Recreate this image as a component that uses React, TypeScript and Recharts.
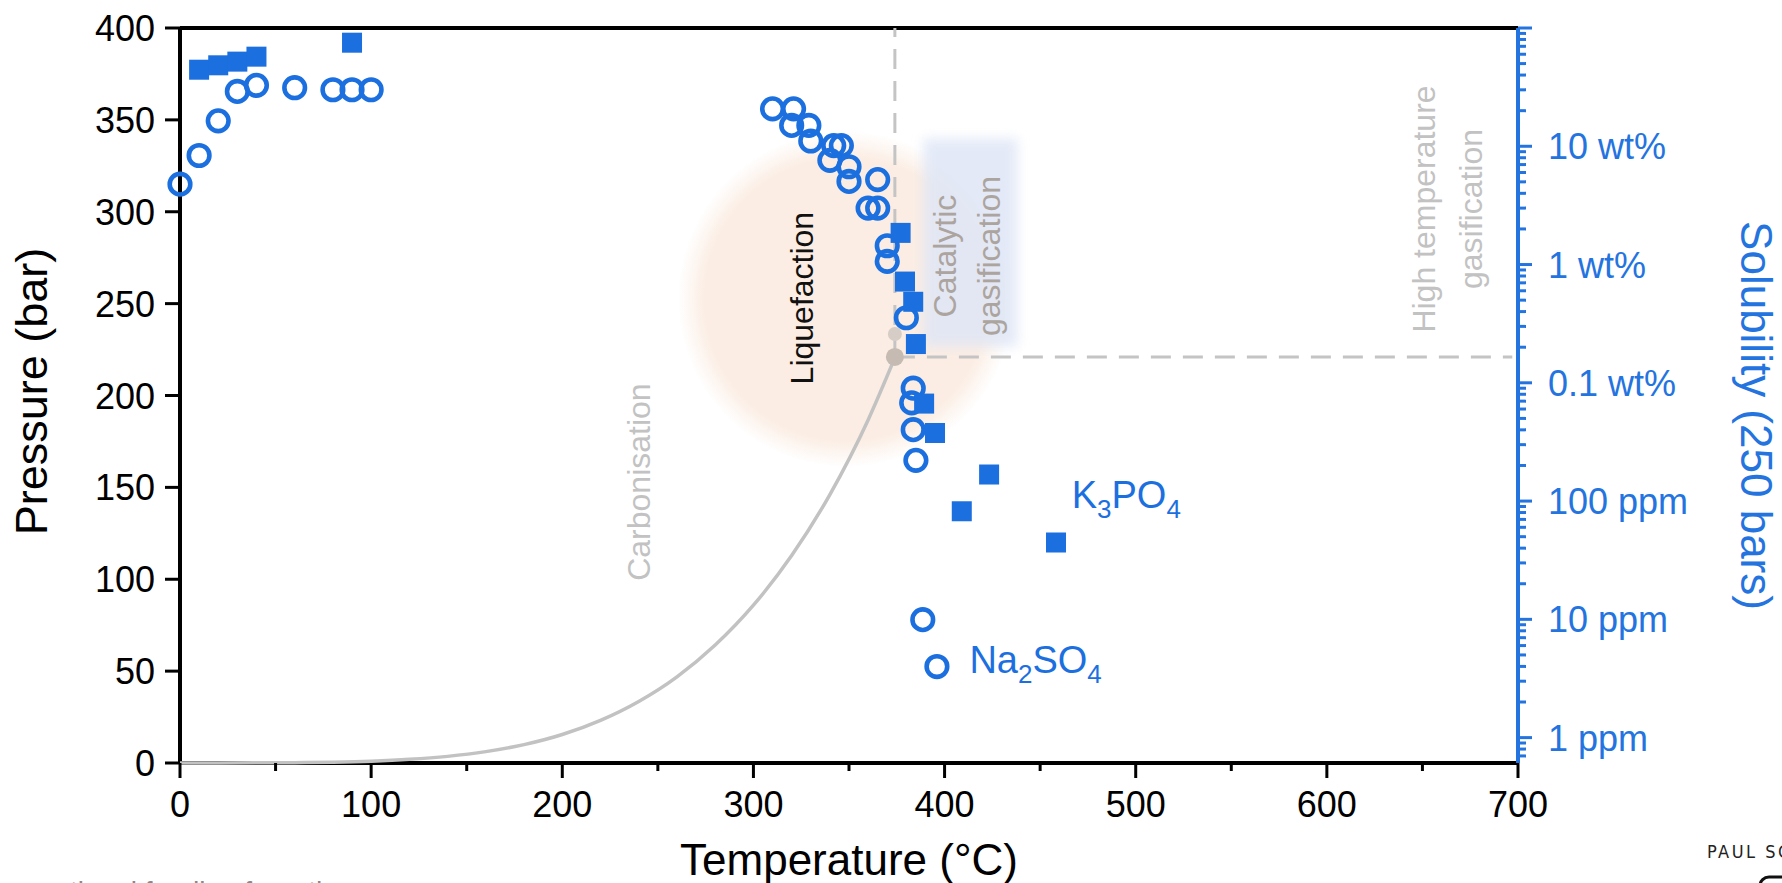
import React from 'react';
import { ScatterChart, Scatter, XAxis, YAxis, ReferenceLine } from 'recharts';

const FONT = '"Liberation Sans", Arial, Helvetica, sans-serif';
const BLUE = '#1b6fdf';
const AXIS_BLUE = '#2474e0';

// Na2SO4 (open circles)
const naTemp = [0, 10, 20, 30, 40, 60, 80, 90, 100, 310, 321, 320, 329, 330, 342, 346, 340, 350, 350, 365, 360, 365, 370, 370, 380, 383.6, 382.8, 383.6, 385, 388.6, 396];
const naPres = [315, 330.6, 349.5, 365.5, 368.8, 367.5, 366.4, 366.4, 366.4, 356, 356, 347, 347, 338.5, 336, 336, 328, 324.5, 316.5, 317.5, 302, 302, 281.5, 273, 242.3, 204, 196, 181.4, 164.7, 78, 52.5];

// K3PO4 (filled squares)
const kTemp = [10, 20, 30, 40, 90, 377, 379.3, 383.6, 385, 389.3, 395, 409, 423.3, 458.3];
const kPres = [377.3, 379.7, 381.7, 384.4, 392, 288.5, 262, 251, 228, 195.6, 179.6, 137, 157, 120];

// water saturation (vapour pressure) curve up to the critical point
const satTemp = [0, 20, 40, 60, 80, 100, 120, 140, 160, 180, 200, 220, 240, 260, 280, 300, 320, 340, 360, 374];
const satPres = [0.006, 0.023, 0.074, 0.199, 0.474, 1.01, 1.99, 3.61, 6.18, 10.0, 15.5, 23.2, 33.5, 46.9, 64.2, 85.9, 112.9, 146.1, 186.7, 220.6];

const criticalT = 374;
const criticalP = 221;
const upperDotP = 233.5;
const dashEndT = 697;
const topP = 400;

const xTicks = [0, 50, 100, 150, 200, 250, 300, 350, 400, 450, 500, 550, 600, 650, 700];
const yTicks = [0, 50, 100, 150, 200, 250, 300, 350, 400];
const solMajor = [1, 10, 100, 1000, 10000, 100000, 1000000];
const solLabels = ['1 ppm', '10 ppm', '100 ppm', '0.1 wt%', '1 wt%', '10 wt%', ''];
const solMinorBelow = [0.7, 0.8, 0.9];
const minorFactors = [2, 3, 4, 5, 6, 7, 8, 9];

const solTicks: number[] = [...solMinorBelow];
solMajor.forEach((m, i) => {
  solTicks.push(m);
  if (i < solMajor.length - 1) minorFactors.forEach((f) => solTicks.push(m * f));
});

const naData = naTemp.map((t, i) => ({ t, p: naPres[i] }));
const kData = kTemp.map((t, i) => ({ t, p: kPres[i] }));
const satData = satTemp.map((t, i) => ({ t, p: satPres[i] }));
const vDash = [{ t: criticalT, p: criticalP }, { t: criticalT, p: topP }];
const hDash = [{ t: criticalT, p: criticalP }, { t: dashEndT, p: criticalP }];
const criticalDots = [
  { t: criticalT, p: upperDotP, big: false },
  { t: criticalT, p: criticalP, big: true },
];

// annotation anchors (data space)
const liquefactionZone = [{ t: 348.4, p: 252.5 }];
const catalyticZone = [{ t: 413.6, p: 283.3 }];
const zoneNotes = [
  { t: 245.9, p: 152.9, lines: ['Carbonisation'], color: '#c2c2c2', gap: 44 },
  { t: 331.2, p: 253, lines: ['Liquefaction'], color: '#111111', gap: 44 },
  { t: 406, p: 275.9, lines: ['Catalytic', 'gasification'], color: '#aca49e', gap: 44 },
  { t: 656.6, p: 301.5, lines: ['High temperature', 'gasification'], color: '#c2c2c2', gap: 47 },
];
const k3po4Label = [{ t: 466.5, p: 138.9 }];
const na2so4Label = [{ t: 413, p: 48.8 }];

const Ring = (props: any) => {
  const { cx, cy } = props;
  if (cx == null || cy == null) return <g />;
  return <circle cx={cx} cy={cy} r={10.3} fill="none" stroke={BLUE} strokeWidth={4.6} />;
};

const Square = (props: any) => {
  const { cx, cy } = props;
  if (cx == null || cy == null) return <g />;
  return <rect x={cx - 10} y={cy - 10} width={20} height={20} fill={BLUE} />;
};

const Nothing = () => <g />;

const CritDot = (props: any) => {
  const { cx, cy, payload } = props;
  if (cx == null) return <g />;
  return <circle cx={cx} cy={cy} r={payload.big ? 9 : 7} fill={payload.big ? '#c6bbb3' : '#d6cdc6'} />;
};

const PeachZone = (props: any) => {
  const { cx, cy } = props;
  if (cx == null) return <g />;
  return (
    <g>
      <defs>
        <radialGradient id="peachGrad" cx="50%" cy="50%" r="50%">
          <stop offset="0%" stopColor="#fbede3" stopOpacity={1} />
          <stop offset="84%" stopColor="#fbede3" stopOpacity={1} />
          <stop offset="100%" stopColor="#fbede3" stopOpacity={0} />
        </radialGradient>
      </defs>
      <circle cx={cx} cy={cy} r={168} fill="url(#peachGrad)" />
    </g>
  );
};

const BlueZone = (props: any) => {
  const { cx, cy } = props;
  if (cx == null) return <g />;
  return (
    <g>
      <defs>
        <filter id="blueBlur" x="-50%" y="-50%" width="200%" height="200%">
          <feGaussianBlur stdDeviation="6" />
        </filter>
      </defs>
      <rect x={cx - 47} y={cy - 104} width={94} height={208} fill="#dfe6f6" opacity={0.85} filter="url(#blueBlur)" />
    </g>
  );
};

const NoteShape = (props: any) => {
  const { cx, cy, payload } = props;
  if (cx == null) return <g />;
  return (
    <g>
      {payload.lines.map((ln: string, i: number) => {
        const x = cx + i * payload.gap;
        return (
          <text
            key={i}
            x={x}
            y={cy}
            transform={`rotate(-90 ${x} ${cy})`}
            textAnchor="middle"
            fontSize={32}
            fontFamily={FONT}
            fill={payload.color}
          >
            {ln}
          </text>
        );
      })}
    </g>
  );
};

const K3PO4Shape = (props: any) => {
  const { cx, cy } = props;
  if (cx == null) return <g />;
  return (
    <text x={cx} y={cy} fontSize={38} fontFamily={FONT} fill={BLUE}>
      K<tspan fontSize={26} dy={10}>3</tspan>
      <tspan dy={-10}>PO</tspan>
      <tspan fontSize={26} dy={10}>4</tspan>
    </text>
  );
};

const Na2SO4Shape = (props: any) => {
  const { cx, cy } = props;
  if (cx == null) return <g />;
  return (
    <text x={cx} y={cy} fontSize={38} fontFamily={FONT} fill={BLUE}>
      Na<tspan fontSize={26} dy={10}>2</tspan>
      <tspan dy={-10}>SO</tspan>
      <tspan fontSize={26} dy={10}>4</tspan>
    </text>
  );
};

const XTick = (props: any) => {
  const { x, y, payload } = props;
  const v = payload.value;
  const major = v % 100 === 0;
  return (
    <g>
      <line x1={x} y1={y} x2={x} y2={y + (major ? 15 : 8)} stroke="#000" strokeWidth={3} />
      {major && (
        <text x={x} y={y + 54} textAnchor="middle" fontSize={36} fontFamily={FONT} fill="#000">
          {v}
        </text>
      )}
    </g>
  );
};

const PTick = (props: any) => {
  const { x, y, payload } = props;
  return (
    <g>
      <line x1={x - 15} y1={y} x2={x} y2={y} stroke="#000" strokeWidth={3} />
      <text x={x - 25} y={y + 13} textAnchor="end" fontSize={36} fontFamily={FONT} fill="#000">
        {payload.value}
      </text>
    </g>
  );
};

const STick = (props: any) => {
  const { x, y, payload } = props;
  const v = payload.value;
  const idx = solMajor.indexOf(v);
  const major = idx >= 0;
  return (
    <g>
      <line x1={x} y1={y} x2={x + (major ? 14 : 8)} y2={y} stroke={AXIS_BLUE} strokeWidth={3} />
      {major && solLabels[idx] && (
        <text x={x + 30} y={y + 13} textAnchor="start" fontSize={36} fontFamily={FONT} fill={AXIS_BLUE}>
          {solLabels[idx]}
        </text>
      )}
    </g>
  );
};

const XTitle = (p: any) => {
  const vb = p && p.viewBox ? p.viewBox : { x: 180, y: 763, width: 1338, height: 50 };
  return (
    <text x={vb.x + vb.width / 2} y={vb.y + 112} textAnchor="middle" fontSize={44} fontFamily={FONT} fill="#000">
      Temperature (°C)
    </text>
  );
};

const PTitle = (p: any) => {
  const vb = p && p.viewBox ? p.viewBox : { x: 80, y: 28, width: 100, height: 735 };
  const x = vb.x + vb.width - 133;
  const y = vb.y + vb.height / 2 - 4;
  return (
    <text x={x} y={y} transform={`rotate(-90 ${x} ${y})`} textAnchor="middle" fontSize={45} fontFamily={FONT} fill="#000">
      Pressure (bar)
    </text>
  );
};

const STitle = (p: any) => {
  const vb = p && p.viewBox ? p.viewBox : { x: 1518, y: 28, width: 100, height: 735 };
  const x = vb.x + 223;
  const y = vb.y + vb.height / 2 + 20;
  return (
    <text x={x} y={y} transform={`rotate(90 ${x} ${y})`} textAnchor="middle" fontSize={44} fontFamily={FONT} fill={AXIS_BLUE}>
      Solubility (250 bars)
    </text>
  );
};

const dashLine = { stroke: '#c4c4c4', strokeWidth: 3, strokeDasharray: '20 12' };

export default function App() {
  return (
    <div style={{ position: 'absolute', left: 0, top: 0, width: 1782, height: 883, overflow: 'hidden', background: '#fff' }}>
      <ScatterChart width={1782} height={883} margin={{ top: 28, right: 164, bottom: 70, left: 80 }}>
        <XAxis
          type="number"
          dataKey="t"
          domain={[0, 700]}
          ticks={xTicks}
          interval={0}
          height={50}
          tick={XTick}
          tickLine={false}
          tickSize={0}
          tickMargin={0}
          axisLine={{ stroke: '#000', strokeWidth: 4 }}
          label={XTitle}
        />
        <YAxis
          yAxisId="p"
          type="number"
          dataKey="p"
          domain={[0, 400]}
          ticks={yTicks}
          interval={0}
          width={100}
          tick={PTick}
          tickLine={false}
          tickSize={0}
          tickMargin={0}
          axisLine={{ stroke: '#000', strokeWidth: 4 }}
          label={PTitle}
        />
        <YAxis
          yAxisId="s"
          orientation="right"
          type="number"
          scale="log"
          domain={[0.61, 1000000]}
          ticks={solTicks}
          interval={0}
          width={100}
          tick={STick}
          tickLine={false}
          tickSize={0}
          tickMargin={0}
          axisLine={{ stroke: AXIS_BLUE, strokeWidth: 4 }}
          allowDataOverflow
          label={STitle}
        />
        <ReferenceLine yAxisId="p" y={topP} stroke="#000" strokeWidth={4} />

        <Scatter yAxisId="p" name="liquefaction" data={liquefactionZone} shape={PeachZone} isAnimationActive={false} />
        <Scatter yAxisId="p" name="catalytic" data={catalyticZone} shape={BlueZone} isAnimationActive={false} />
        <Scatter yAxisId="p" name="notes" data={zoneNotes} shape={NoteShape} isAnimationActive={false} />

        <Scatter yAxisId="p" name="vdash" data={vDash} line={dashLine} shape={Nothing} isAnimationActive={false} />
        <Scatter yAxisId="p" name="hdash" data={hDash} line={dashLine} shape={Nothing} isAnimationActive={false} />

        <Scatter
          yAxisId="p"
          name="saturation"
          data={satData}
          line={{ stroke: '#c2c2c2', strokeWidth: 3.5 }}
          lineJointType="monotoneX"
          shape={Nothing}
          isAnimationActive={false}
        />
        <Scatter yAxisId="p" name="critical" data={criticalDots} shape={CritDot} isAnimationActive={false} />

        <Scatter yAxisId="p" name="Na2SO4" data={naData} shape={Ring} isAnimationActive={false} />
        <Scatter yAxisId="p" name="K3PO4" data={kData} shape={Square} isAnimationActive={false} />
        <Scatter yAxisId="p" name="K3PO4 label" data={k3po4Label} shape={K3PO4Shape} isAnimationActive={false} />
        <Scatter yAxisId="p" name="Na2SO4 label" data={na2so4Label} shape={Na2SO4Shape} isAnimationActive={false} />
      </ScatterChart>
      <svg width={1782} height={883} style={{ position: 'absolute', left: 0, top: 0, pointerEvents: 'none' }}>
        <text x={70} y={901} fontSize={28} fontFamily={FONT} fill="#888">tional funding from the</text>
        <text
          x={1707}
          y={858}
          fontSize={18}
          fontFamily='"Liberation Sans Narrow", "DejaVu Sans Condensed", "Liberation Sans", sans-serif'
          fill="#222"
          letterSpacing={2.5}
        >
          PAUL SC
        </text>
        <rect x={1760} y={877} width={90} height={40} rx={9} fill="none" stroke="#111" strokeWidth={3} />
      </svg>
    </div>
  );
}
